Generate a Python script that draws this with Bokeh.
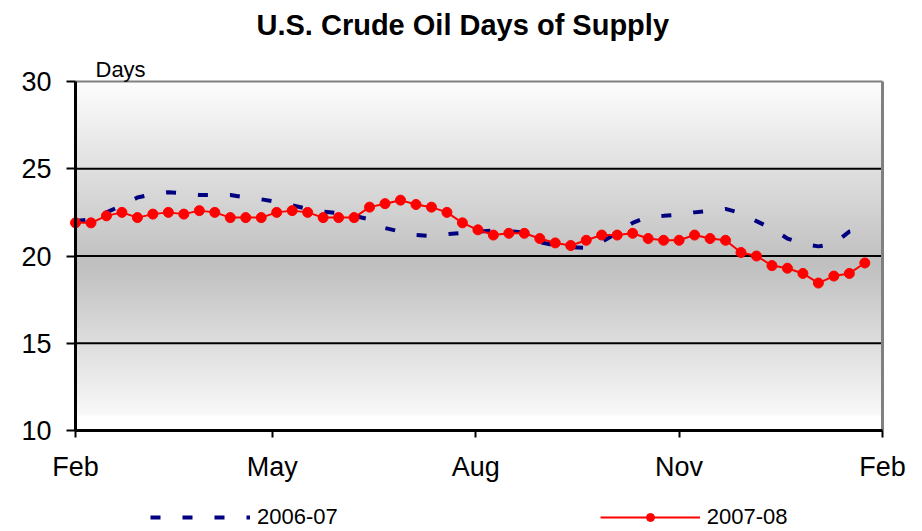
import numpy as np
import pandas as pd
from bokeh.plotting import figure
from bokeh.models import FixedTicker, DatetimeTickFormatter, Range1d, Label, Legend, LegendItem
from bokeh.embed import file_html
from bokeh.resources import INLINE

# ---------------- data ----------------
title_text = "U.S. Crude Oil Days of Supply"
y_unit_label = "Days"
series_names = ["2006-07", "2007-08"]
first_week = "2007-02-01"
x_start, x_end = "2007-02-01", "2008-02-01"
tick_dates = ["2007-02-01", "2007-05-01", "2007-08-01", "2007-11-01", "2008-02-01"]
tick_labels = ["Feb", "May", "Aug", "Nov", "Feb"]
y_min, y_max = 10, 30
y_ticks = [10, 15, 20, 25, 30]
grid_values = [15, 20, 25]

supply_2006_07 = [22.0, 22.1, 22.5, 22.9, 23.35, 23.55, 23.65, 23.6, 23.5, 23.5,
                  23.5, 23.35, 23.25, 23.1, 22.9, 22.7, 22.55, 22.45, 22.3, 22.1,
                  21.6, 21.4, 21.2, 21.15, 21.25, 21.33, 21.4, 21.45, 21.42, 21.35,
                  20.8, 20.6, 20.5, 20.47, 20.8, 21.33, 21.9, 22.25, 22.3, 22.36,
                  22.5, 22.6, 22.7, 22.45, 22.0, 21.56, 21.0, 20.7, 20.55, 20.7,
                  21.4, 21.6]

supply_2007_08 = [21.9, 21.9, 22.3, 22.5, 22.2, 22.4, 22.5, 22.4, 22.6, 22.5,
                  22.2, 22.2, 22.2, 22.5, 22.6, 22.5, 22.2, 22.2, 22.2, 22.8,
                  23.0, 23.2, 22.95, 22.8, 22.5, 21.9, 21.5, 21.2, 21.3, 21.3,
                  21.0, 20.75, 20.6, 20.9, 21.2, 21.2, 21.3, 21.0, 20.9, 20.9,
                  21.2, 21.0, 20.9, 20.2, 20.0, 19.45, 19.3, 19.0, 18.45, 18.85,
                  19.0, 19.6]

weeks = pd.date_range(first_week, periods=len(supply_2007_08), freq="7D")

def ms(d):
    return pd.Timestamp(d).value // 10**6

x0, x1 = ms(x_start), ms(x_end)
font = "Liberation Sans"

# ---------------- layout (pixels) ----------------
W, H = 922, 531
axis_left_px = 75        # page x of the first Feb
axis_top_px = 81         # page y of 30
plot_w_px = 807          # width of the Feb..Feb span
plot_h_px = 349          # height of the 10..30 span
px_per_ms = plot_w_px / (x1 - x0)
px_per_unit = plot_h_px / (y_max - y_min)

# the frame covers the whole canvas; axes are fixed inside it
x_range = Range1d(x0 - axis_left_px / px_per_ms,
                  x1 + (W - axis_left_px - plot_w_px) / px_per_ms)
y_range = Range1d(y_min - (H - axis_top_px - plot_h_px) / px_per_unit,
                  y_max + axis_top_px / px_per_unit)

p = figure(width=W, height=H, x_axis_type="datetime",
           x_range=x_range, y_range=y_range,
           output_backend="svg", toolbar_location=None,
           min_border=0)
p.title.visible = False
p.background_fill_color = "white"
p.border_fill_color = "white"
p.outline_line_color = None

# vertical gradient of the plot area
g_bottom, g_top = 10.86, 30.0
n = 300
yc = np.linspace(g_bottom, g_top, n)
mid = 19.5
gray = np.where(yc >= mid, 192 + (254 - 192) * (yc - mid) / (g_top - mid),
                192 + (249 - 192) * (mid - yc) / (mid - g_bottom))
img = np.empty((n, 1), dtype=np.uint32)
view = img.view(dtype=np.uint8).reshape((n, 1, 4))
view[:, 0, 0] = gray.astype(np.uint8)
view[:, 0, 1] = gray.astype(np.uint8)
view[:, 0, 2] = gray.astype(np.uint8)
view[:, 0, 3] = 255
p.image_rgba(image=[img], x=x0, y=g_bottom, dw=x1 - x0, dh=g_top - g_bottom)

# grid lines (only across the plot area) and gray top/right border
p.xgrid.visible = False
p.ygrid.visible = False
p.segment(x0=[x0] * len(grid_values), x1=[x1] * len(grid_values),
          y0=grid_values, y1=grid_values, line_color="black", line_width=2)
p.segment(x0=[x0], x1=[x1], y0=[y_max], y1=[y_max], line_color="#808080", line_width=2)
p.segment(x0=[x1], x1=[x1], y0=[y_min], y1=[y_max], line_color="#808080", line_width=3)

# axes
p.yaxis.ticker = FixedTicker(ticks=y_ticks)
p.yaxis.bounds = (y_min, y_max)
p.yaxis.fixed_location = x0
p.xaxis.ticker = FixedTicker(ticks=[ms(d) for d in tick_dates])
p.xaxis.bounds = (x0, x1)
p.xaxis.fixed_location = y_min
p.xaxis.formatter = DatetimeTickFormatter(days="%b", months="%b", years="%b",
                                          hours="%b", minutes="%b", seconds="%b",
                                          milliseconds="%b", microseconds="%b")
for ax in (p.xaxis, p.yaxis):
    ax.axis_line_color = "black"
    ax.axis_line_width = 3
    ax.major_tick_line_color = "black"
    ax.major_tick_line_width = 2
    ax.major_tick_in = 0
    ax.minor_tick_line_color = None
    ax.major_label_text_font = font
    ax.major_label_text_font_size = "27px"
    ax.major_label_text_color = "black"
p.yaxis.major_tick_out = 9
p.yaxis.major_label_standoff = 15
p.xaxis.major_tick_out = 7
p.xaxis.major_label_standoff = 14

# series
r_old = p.line(weeks, supply_2006_07, line_color="#000080", line_width=4,
               line_dash="10 22", line_cap="butt")
r_new_line = p.line(weeks, supply_2007_08, line_color="#FF0000", line_width=2)
r_new_pts = p.scatter(weeks, supply_2007_08, marker="circle", size=10,
                      fill_color="#FF0000", line_color="#FF0000")

# texts
p.add_layout(Label(x=x0 + 181 / px_per_ms, y=y_max + 57 / px_per_unit,
                   text=title_text, text_align="left", text_baseline="alphabetic",
                   text_font=font, text_font_style="bold",
                   text_font_size="29px", text_color="black"))
p.add_layout(Label(x=x0 + 20 / px_per_ms, y=y_max + 12 / px_per_unit,
                   text=y_unit_label, text_align="left", text_baseline="alphabetic",
                   text_font=font, text_font_size="22px", text_color="black"))

legend = Legend(items=[LegendItem(label=series_names[0], renderers=[r_old]),
                       LegendItem(label=series_names[1], renderers=[r_new_line, r_new_pts])],
                orientation="horizontal", location=(150, 1),
                glyph_width=100, glyph_height=20, label_height=20,
                label_standoff=7, spacing=262, padding=0, margin=0,
                border_line_color=None, background_fill_alpha=0,
                label_text_font=font, label_text_font_size="22px",
                label_text_color="black")
p.add_layout(legend, "center")

open("out.html", "w").write(file_html(p, INLINE))
